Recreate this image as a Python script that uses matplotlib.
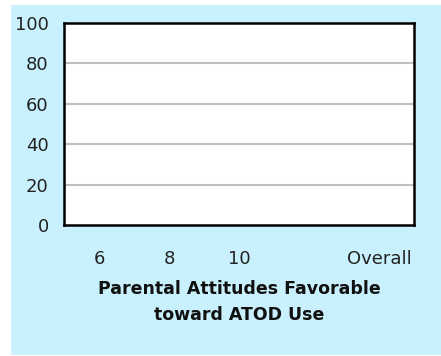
import numpy as np
import matplotlib
matplotlib.use("Agg")
import matplotlib.pyplot as plt
from matplotlib.patches import Rectangle

# Grade categories; the fourth slot is kept as an unlabeled spacer
categories = ["6", "8", "10", "", "Overall"]
values = [np.nan, np.nan, np.nan, np.nan, np.nan]
yticks = [0, 20, 40, 60, 80, 100]
xlabel = "Parental Attitudes Favorable\ntoward ATOD Use"

W, H, DPI = 441, 356, 100
fig = plt.figure(figsize=(W / DPI, H / DPI), dpi=DPI, facecolor="white")

# light cyan panel behind the chart
fig.add_artist(Rectangle((11 / W, 1 - 355 / H), (W - 11) / W, 350 / H,
                         transform=fig.transFigure, facecolor="#C8F1FD",
                         edgecolor="none", zorder=-10))

ax = fig.add_axes([64 / W, 1 - 225 / H, 350 / W, 202 / H])
ax.set_facecolor("white")

x = np.arange(len(categories))
ax.bar(x, values, width=0.6, color="#6666cc")

ax.set_xlim(-0.5, len(categories) - 0.5)
ax.set_ylim(0, 100)
ax.set_yticks(yticks)
ax.set_yticklabels([str(v) for v in yticks], fontsize=13, color="#222222")
ax.set_xticks(x)
ax.set_xticklabels(categories, fontsize=13, color="#222222")
ax.tick_params(axis="both", length=0)
ax.tick_params(axis="y", pad=11)
ax.tick_params(axis="x", pad=18)

for v in yticks[1:-1]:
    ax.axhline(v, color="#C0C0C0", linewidth=1.5, zorder=1)

for s in ax.spines.values():
    s.set_color("black")
    s.set_linewidth(1.8)

ax.set_xlabel(xlabel, fontsize=12.5, fontweight="bold", color="#111111",
              labelpad=9, linespacing=1.55)

fig.savefig("out.png", dpi=DPI, facecolor=fig.get_facecolor())
